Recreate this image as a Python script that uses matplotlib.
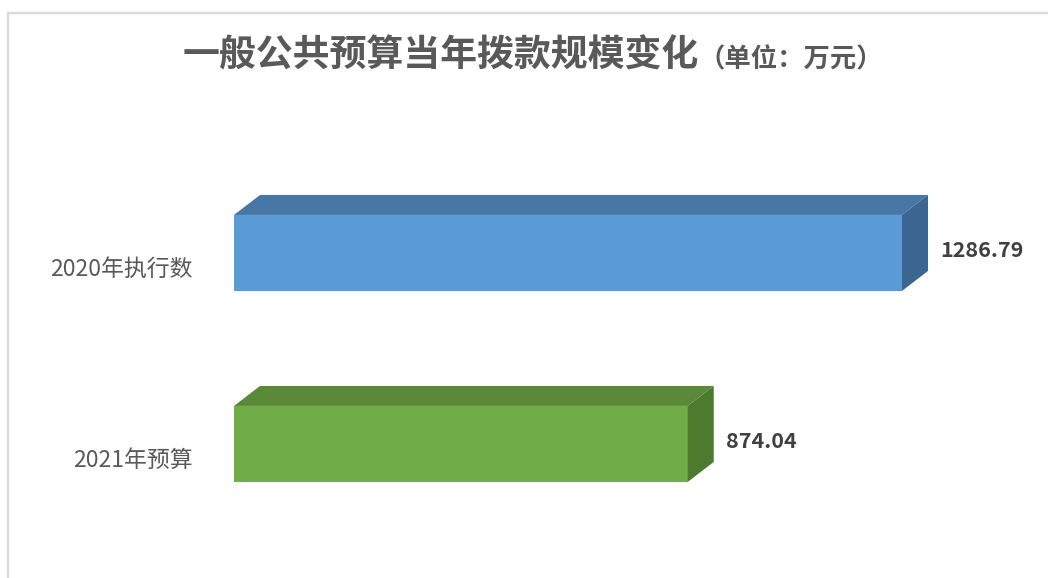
import numpy as np
import matplotlib.pyplot as plt
from matplotlib.patches import Polygon
from matplotlib.lines import Line2D

plt.rcParams['font.family'] = ['Noto Sans CJK SC', 'DejaVu Sans']

# --- data ---
categories = ['2020年执行数', '2021年预算']
values = [1286.79, 874.04]
front_colors = ['#5B9BD5', '#70AD47']
top_colors = ['#4777A5', '#5A8A38']
side_colors = ['#3C6591', '#4C7A2E']

W, H = 1048, 578
fig = plt.figure(figsize=(W / 100, H / 100), dpi=100)

# light frame (left and top edges visible)
fig.add_artist(Line2D([8 / W, 8 / W], [0, 1 - 13 / H], color='#d9d9d9', lw=1.6))
fig.add_artist(Line2D([8 / W, 1], [1 - 13 / H, 1 - 13 / H], color='#d9d9d9', lw=1.6))

# axes placed so that 0 sits at pixel 234 and 1286.79 at pixel 902
xmax = 1400
ax_w = xmax * 668 / 1286.79
ax = fig.add_axes([234 / W, 1 - 540 / H, ax_w / W, 390 / H])
ax.set_xlim(0, xmax)
ax.set_ylim(1.503, -0.539)
ax.axis('off')

ypos = np.arange(len(categories))
h = 76 / 191
dx = 26 * xmax / ax_w
dy = 20 / 191

ax.barh(ypos, values, height=h, color=front_colors, edgecolor='none', zorder=2)
for y, v, tc, sc, cat in zip(ypos, values, top_colors, side_colors, categories):
    top = y - h / 2
    bot = y + h / 2
    ax.add_patch(Polygon([(0, top), (v, top), (v + dx, top - dy), (dx, top - dy)],
                         closed=True, facecolor=tc, edgecolor='none', zorder=2, clip_on=False))
    ax.add_patch(Polygon([(v, top), (v + dx, top - dy), (v + dx, bot - dy), (v, bot)],
                         closed=True, facecolor=sc, edgecolor='none', zorder=2, clip_on=False))
    ax.annotate(f'{v:.2f}', xy=(v + dx, y), xytext=(9, 2), textcoords='offset points',
                ha='left', va='center', fontsize=15.5, fontweight='bold', color='#404040',
                annotation_clip=False)
    ax.annotate(cat, xy=(0, y), xytext=(-30, -12), textcoords='offset points',
                ha='right', va='center', fontsize=16.5, color='#595959',
                annotation_clip=False)

# title in two sizes, sharing a baseline
split_x = 699 / W
base_y = 1 - 67 / H
fig.text(split_x, base_y, '一般公共预算当年拨款规模变化', ha='right', va='baseline',
         fontsize=26.6, fontweight='bold', color='#595959')
fig.text(split_x, base_y, '（单位：万元）', ha='left', va='baseline',
         fontsize=19, fontweight='bold', color='#595959')

fig.savefig('out.png', dpi=100)
